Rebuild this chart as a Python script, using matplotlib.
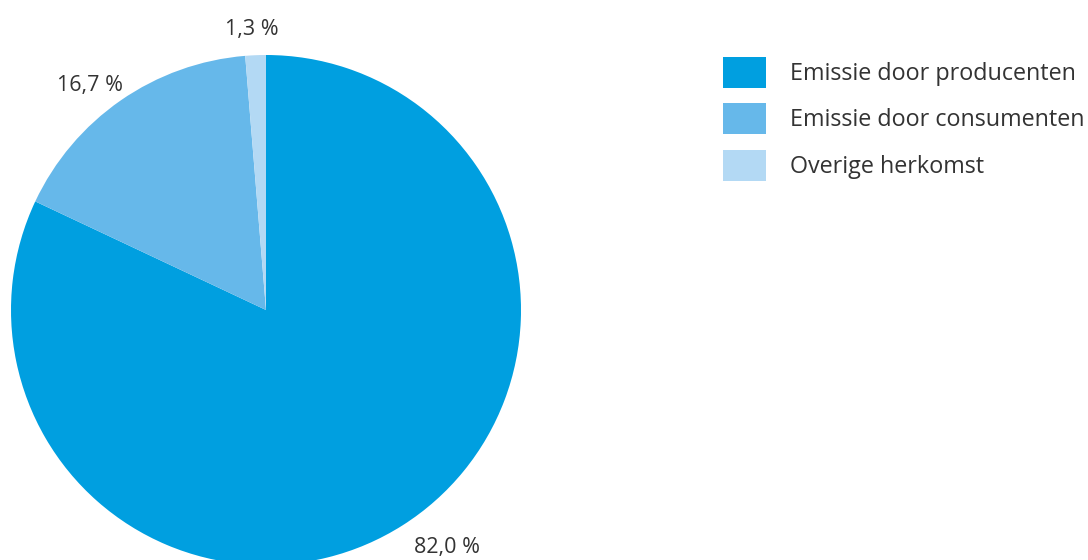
import matplotlib.pyplot as plt

labels = ['Emissie door producenten', 'Emissie door consumenten', 'Overige herkomst']
values = [82.0, 16.7, 1.3]
colors = ['#009fe0', '#66b8ea', '#b3d9f4']

plt.rcParams['font.family'] = ['Open Sans', 'DejaVu Sans']
text_color = '#333333'

W, H = 1088, 560
cx, cy, scale = 266, 310, 255  # pie centre and radius in px

# where the percentage labels sit (px from top-left)
label_px = [(447, 547), (90, 85), (252, 30)]

fig = plt.figure(figsize=(W / 100, H / 100), dpi=100)
ax = fig.add_axes([0, 0, 1, 1])

wedges, texts = ax.pie(values, colors=colors, startangle=90, counterclock=False,
                       radius=1, labels=[f"{v:.1f} %".replace('.', ',') for v in values],
                       textprops={'fontsize': 15.5, 'color': text_color})
for t, (px, py) in zip(texts, label_px):
    t.set_position(((px - cx) / scale, (cy - py) / scale))
    t.set_ha('center')
    t.set_va('center')

ax.set_xlim(-cx / scale, (W - cx) / scale)
ax.set_ylim(-(H - cy) / scale, cy / scale)
ax.set_aspect('equal')
ax.axis('off')

leg = fig.legend(wedges, labels, loc='upper left', bbox_to_anchor=(723 / W, 1 - 57 / H),
                 frameon=False, fontsize=16.8, handlelength=1.85, handleheight=1.64,
                 labelspacing=0.68, handletextpad=1.0, borderpad=0, borderaxespad=0)
for t in leg.get_texts():
    t.set_color(text_color)

fig.savefig('out.png', dpi=100)
